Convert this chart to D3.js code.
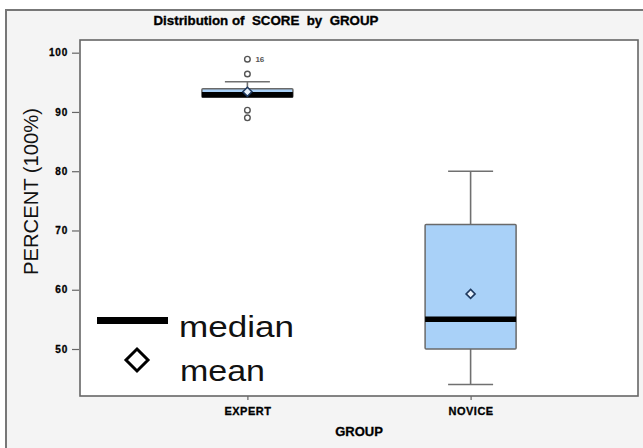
<!DOCTYPE html>
<html>
<head>
<meta charset="utf-8">
<script src="https://cdn.jsdelivr.net/npm/d3@7"></script>
<style>
  html, body { margin: 0; padding: 0; background: #ffffff; }
  svg { display: block; font-family: "Liberation Sans", Arial, sans-serif; }
</style>
</head>
<body>
<svg id="chart" width="643" height="448"></svg>
<script>
// Box plot statistics per group
const groups = ["EXPERT", "NOVICE"];
const q1 = [92.5, 50];
const medians = [92.9, 55];
const q3 = [93.9, 71];
const whiskerLow = [92.5, 44];
const whiskerHigh = [95.1, 80];
const means = [93.4, 59.3];

// Individual outlying observations
const outlierGroup = ["EXPERT", "EXPERT", "EXPERT", "EXPERT"];
const outlierValue = [98.9, 96.4, 90.3, 89.0];
const outlierLabel = ["16", "", "", ""];

const yTicks = [50, 60, 70, 80, 90, 100];

const svg = d3.select("#chart");
const plot = { left: 80, right: 638, top: 40, bottom: 396 };

// Outer panel
svg.append("rect")
  .attr("x", 6).attr("y", 10).attr("width", 700).attr("height", 500)
  .attr("fill", "#f4f4f4").attr("stroke", "#777").attr("stroke-width", 2);

// Plot area
svg.append("rect")
  .attr("x", plot.left).attr("y", plot.top)
  .attr("width", plot.right - plot.left).attr("height", plot.bottom - plot.top)
  .attr("fill", "#ffffff").attr("stroke", "#666").attr("stroke-width", 1.6);

const x = d3.scalePoint().domain(groups).range([plot.left, plot.right]).padding(0.75);
const y = d3.scaleLinear().domain([42.07, 102.14]).range([plot.bottom, plot.top]);

// Title
svg.append("text")
  .attr("x", 266).attr("y", 25)
  .attr("text-anchor", "middle")
  .attr("font-size", 13.5).attr("font-weight", "bold")
  .attr("stroke", "#000").attr("stroke-width", 0.35)
  .attr("textLength", 225).attr("lengthAdjust", "spacingAndGlyphs")
  .style("white-space", "pre")
  .text("Distribution of  SCORE  by  GROUP");

// Y axis
const yAxis = svg.append("g")
  .attr("transform", `translate(${plot.left - 1},0)`)
  .call(d3.axisLeft(y).tickValues(yTicks).tickSize(7).tickPadding(4));
yAxis.select(".domain").remove();
yAxis.selectAll("line").attr("stroke", "#666").attr("stroke-width", 1.2);
yAxis.selectAll("text")
  .attr("font-family", "'Liberation Sans', Arial, sans-serif")
  .attr("font-size", 10).attr("font-weight", "bold")
  .attr("stroke", "#000").attr("stroke-width", 0.3)
  .attr("letter-spacing", 0.8).attr("fill", "#000");

// X axis
const xAxis = svg.append("g")
  .attr("transform", `translate(0,${plot.bottom})`)
  .call(d3.axisBottom(x).tickSize(4).tickPadding(7));
xAxis.select(".domain").remove();
xAxis.selectAll("line").attr("stroke", "#666").attr("stroke-width", 1.2);
xAxis.selectAll("text")
  .attr("font-family", "'Liberation Sans', Arial, sans-serif")
  .attr("font-size", 11).attr("font-weight", "bold")
  .attr("stroke", "#000").attr("stroke-width", 0.3)
  .attr("letter-spacing", 0.5).attr("fill", "#000");

// Axis titles
svg.append("text")
  .attr("x", (plot.left + plot.right) / 2).attr("y", 436)
  .attr("text-anchor", "middle")
  .attr("font-size", 13).attr("font-weight", "bold").attr("fill", "#000")
  .attr("stroke", "#000").attr("stroke-width", 0.3)
  .text("GROUP");

svg.append("text")
  .attr("transform", `translate(38,${(108 + 275) / 2}) rotate(-90)`)
  .attr("text-anchor", "middle")
  .attr("font-size", 21).attr("fill", "#111")
  .attr("textLength", 167).attr("lengthAdjust", "spacingAndGlyphs")
  .text("PERCENT (100%)");

// Boxes
const boxW = 91, capW = 45;
const g = svg.append("g");
groups.forEach((grp, i) => {
  const cx = x(grp);
  // whiskers
  g.append("line")
    .attr("x1", cx).attr("x2", cx).attr("y1", y(q3[i])).attr("y2", y(whiskerHigh[i]))
    .attr("stroke", "#707070").attr("stroke-width", 1.6);
  g.append("line")
    .attr("x1", cx).attr("x2", cx).attr("y1", y(q1[i])).attr("y2", y(whiskerLow[i]))
    .attr("stroke", "#707070").attr("stroke-width", 1.6);
  [whiskerHigh[i], whiskerLow[i]].forEach(v => {
    g.append("line")
      .attr("x1", cx - capW / 2).attr("x2", cx + capW / 2)
      .attr("y1", y(v)).attr("y2", y(v))
      .attr("stroke", "#707070").attr("stroke-width", 1.6);
  });
  // box
  g.append("rect")
    .attr("x", cx - boxW / 2).attr("y", y(q3[i]))
    .attr("width", boxW).attr("height", y(q1[i]) - y(q3[i]))
    .attr("rx", 1)
    .attr("fill", "#a9d1f8").attr("stroke", "#6a6a6a").attr("stroke-width", 1.5);
  // median
  g.append("line")
    .attr("x1", cx - boxW / 2).attr("x2", cx + boxW / 2)
    .attr("y1", y(medians[i])).attr("y2", y(medians[i]))
    .attr("stroke", "#000").attr("stroke-width", 5.5);
  // mean
  const my = y(means[i]);
  g.append("path")
    .attr("d", `M${cx},${my - 4.5}L${cx + 4.5},${my}L${cx},${my + 4.5}L${cx - 4.5},${my}Z`)
    .attr("fill", "#e8f2fd").attr("stroke", "#1f3a60").attr("stroke-width", 1.6);
});

// Outliers
outlierValue.forEach((v, i) => {
  const cx = x(outlierGroup[i]);
  g.append("circle")
    .attr("cx", cx).attr("cy", y(v)).attr("r", 2.8)
    .attr("fill", "#fff").attr("stroke", "#555").attr("stroke-width", 1.4);
  if (outlierLabel[i]) {
    g.append("text")
      .attr("x", cx + 8).attr("y", y(v) + 3)
      .attr("font-size", 8).attr("font-weight", "bold").attr("fill", "#555")
      .text(outlierLabel[i]);
  }
});

// Legend
const lg = svg.append("g");
lg.append("line")
  .attr("x1", 97).attr("x2", 168).attr("y1", 320.5).attr("y2", 320.5)
  .attr("stroke", "#000").attr("stroke-width", 7);
lg.append("text")
  .attr("x", 179).attr("y", 337)
  .attr("font-size", 30).attr("fill", "#111")
  .attr("textLength", 115).attr("lengthAdjust", "spacingAndGlyphs")
  .text("median");
lg.append("path")
  .attr("d", "M137,349L148,360L137,371L126,360Z")
  .attr("fill", "#fff").attr("stroke", "#000").attr("stroke-width", 3);
lg.append("text")
  .attr("x", 180).attr("y", 381)
  .attr("font-size", 30).attr("fill", "#111")
  .attr("textLength", 85).attr("lengthAdjust", "spacingAndGlyphs")
  .text("mean");
</script>
</body>
</html>
